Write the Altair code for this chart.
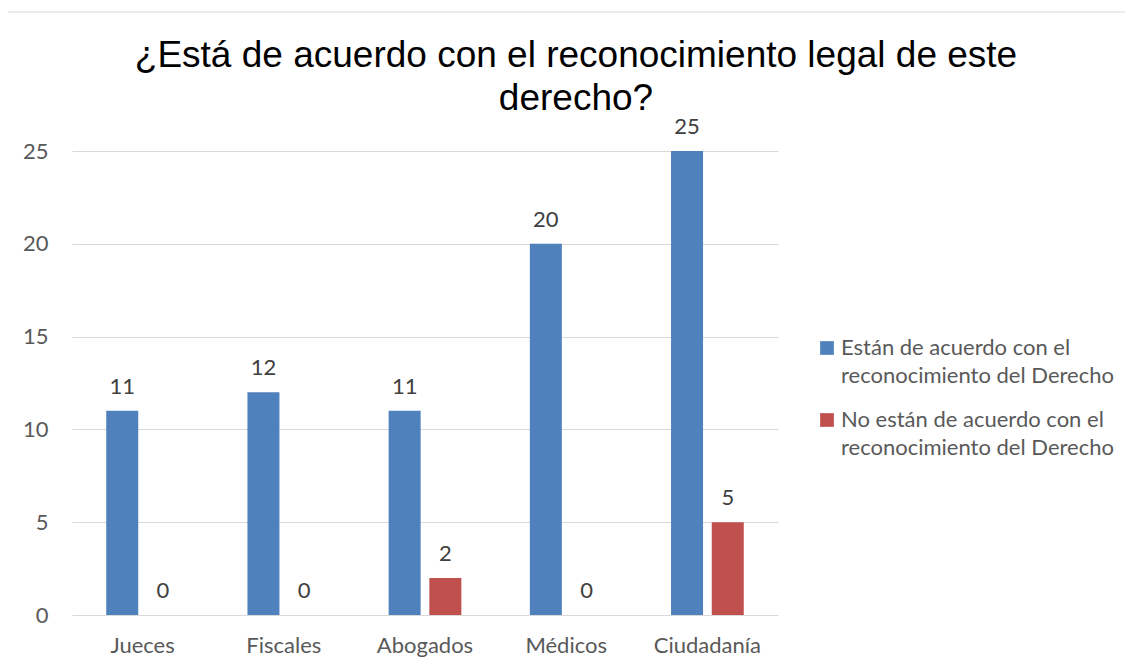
import altair as alt
import pandas as pd

categories = ["Jueces", "Fiscales", "Abogados", "Médicos", "Ciudadanía"]
series_names = [
    "Están de acuerdo con el reconocimiento del Derecho",
    "No están de acuerdo con el reconocimiento del Derecho",
]
agree = [11, 12, 11, 20, 25]
disagree = [0, 0, 2, 0, 5]
colors = ["#4F81BD", "#C0504D"]
title_lines = ["¿Está de acuerdo con el reconocimiento legal de este", "derecho?"]

rows = []
for c, a, d in zip(categories, agree, disagree):
    rows.append({"cat": c, "serie": series_names[0], "val": a})
    rows.append({"cat": c, "serie": series_names[1], "val": d})
df = pd.DataFrame(rows)

LBL_FONT = "Lato"
FS = 22
W, H = 706, 464

x_enc = alt.X("cat:N", sort=categories, title=None,
              scale=alt.Scale(paddingInner=0.485, paddingOuter=0.2425),
              axis=alt.Axis(labelAngle=0, labelFont=LBL_FONT, labelFontSize=FS,
                            labelColor="#595959", labelPadding=20, ticks=False,
                            tickSize=0, domain=False, grid=False))
xo_enc = alt.XOffset("serie:N", sort=series_names,
                     scale=alt.Scale(paddingInner=0.214, paddingOuter=0))
y_enc = alt.Y("val:Q", title=None,
              scale=alt.Scale(domain=[0, 25], nice=False),
              axis=alt.Axis(values=[0, 5, 10, 15, 20, 25], labelFont=LBL_FONT,
                            labelFontSize=FS, labelColor="#595959",
                            labelPadding=24, ticks=False, tickSize=0,
                            domain=False, grid=True, gridColor="#D9D9D9",
                            gridWidth=1))
legend_expr = ("datum.label == '" + series_names[0] +
               "' ? ['Están de acuerdo con el', 'reconocimiento del Derecho']"
               " : ['No están de acuerdo con el', 'reconocimiento del Derecho']")
color_enc = alt.Color("serie:N", sort=series_names,
                      scale=alt.Scale(domain=series_names, range=colors),
                      legend=alt.Legend(title=None, orient="none",
                                        legendX=744, legendY=186,
                                        symbolType="square", symbolSize=188,
                                        symbolStrokeWidth=0,
                                        labelFont=LBL_FONT, labelFontSize=FS,
                                        labelColor="#595959", labelLimit=400,
                                        labelOffset=3, labelBaseline="middle",
                                        labelExpr=legend_expr,
                                        rowPadding=22, padding=0))

bars = alt.Chart(df).mark_bar().encode(x=x_enc, xOffset=xo_enc, y=y_enc, color=color_enc)
labels = alt.Chart(df).mark_text(font=LBL_FONT, fontSize=FS, color="#404040",
                                 baseline="alphabetic", dy=-17).encode(
    x=alt.X("cat:N", sort=categories), xOffset=alt.XOffset("serie:N", sort=series_names),
    y="val:Q", text="val:Q")

one = alt.Data(values=[{"k": 1}])
frame = alt.Chart(one).mark_rect(
    fill=None, stroke="#D9D9D9", strokeWidth=1).encode(
    x=alt.value(-65), x2=alt.value(1200), y=alt.value(-139), y2=alt.value(800))

title = alt.Chart(one).mark_text(
    text=title_lines, font="Liberation Sans", fontSize=37, color="#000000",
    align="center", baseline="alphabetic", lineHeight=43).encode(
    x=alt.value(504), y=alt.value(-84))

chart = alt.layer(frame, bars, labels, title).properties(
    width=W, height=H,
    padding={"left": 64, "top": 143, "right": 347, "bottom": 48},
    autosize=alt.AutoSizeParams(type="none"),
).configure(
    background="white",
    view=alt.ViewConfig(stroke="transparent"),
    style={"guide-label": {"lineHeight": 28}},
)

chart.save("out.html", embed_options={"renderer": "svg", "actions": False})
